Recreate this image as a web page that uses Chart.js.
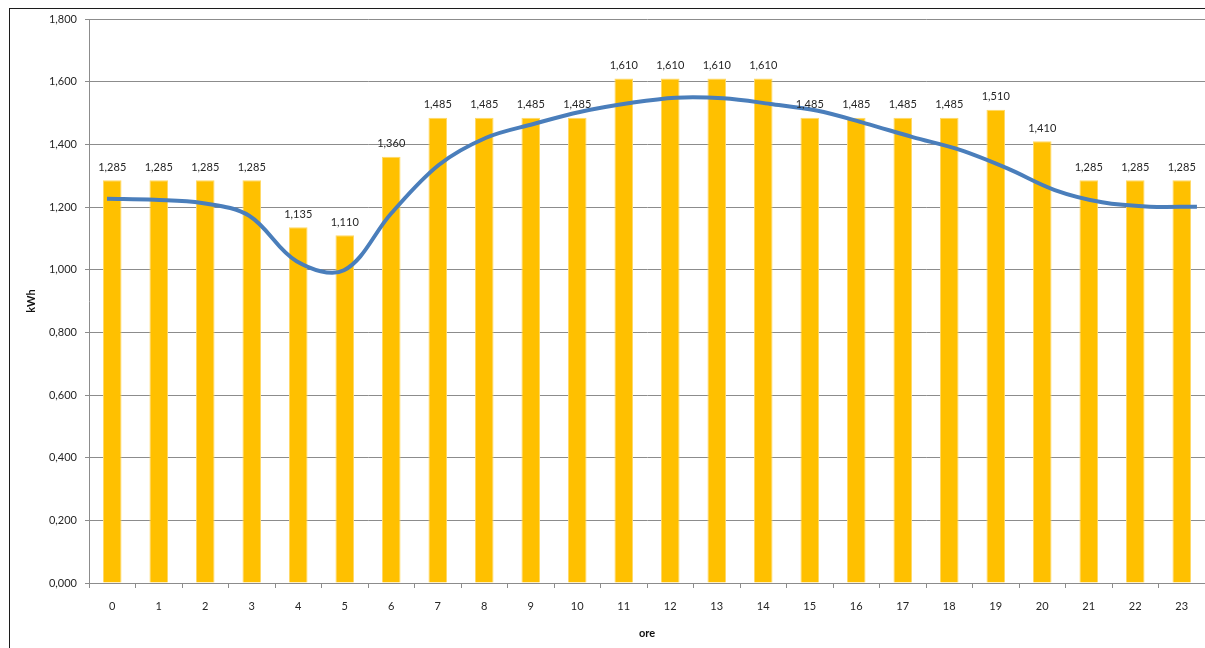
<!DOCTYPE html>
<html>
<head>
<meta charset="utf-8">
<script src="https://cdn.jsdelivr.net/npm/chart.js@4/dist/chart.umd.min.js"></script>
<style>
  html, body { margin: 0; padding: 0; background: #ffffff; }
  #wrap { position: relative; width: 1205px; height: 648px; overflow: hidden; }
  #frame { position: absolute; left: 9px; top: 8px; width: 1300px; height: 700px;
           border-left: 1px solid #1c1c1c; border-top: 1px solid #1c1c1c; pointer-events: none; }
  canvas { position: absolute; left: 0; top: 0; }
</style>
</head>
<body>
<div id="wrap">
  <canvas id="c" width="1205" height="648"></canvas>
  <div id="frame"></div>
</div>
<script>
// Hours of the day
const hours = ['0','1','2','3','4','5','6','7','8','9','10','11','12','13','14','15','16','17','18','19','20','21','22','23'];
// Hourly consumption (kWh)
const consumption = [1.285,1.285,1.285,1.285,1.135,1.110,1.360,1.485,1.485,1.485,1.485,1.610,1.610,1.610,1.610,1.485,1.485,1.485,1.485,1.510,1.410,1.285,1.285,1.285];
// Smoothed trend curve (kWh), one point per hour
const trend = [1.226,1.223,1.213,1.172,1.027,0.998,1.180,1.334,1.421,1.465,1.504,1.531,1.549,1.547,1.529,1.507,1.467,1.423,1.382,1.323,1.254,1.215,1.201,1.201];
// Value axis ticks
const yTicks = [0,0.2,0.4,0.6,0.8,1.0,1.2,1.4,1.6,1.8];

const fmt = v => v.toFixed(3).replace('.', ',');
const FONT = 'Lato, "Open Sans", sans-serif';
const TEXT = '#262626';

// Value labels above each bar
const barLabels = {
  id: 'barLabels',
  afterDatasetsDraw(chart) {
    const ctx = chart.ctx;
    const idx = chart.data.datasets.findIndex(d => d.type === 'bar');
    const meta = chart.getDatasetMeta(idx);
    ctx.save();
    ctx.font = '11px ' + FONT;
    ctx.fillStyle = TEXT;
    ctx.textAlign = 'center';
    ctx.textBaseline = 'middle';
    meta.data.forEach((bar, i) => {
      ctx.fillText(fmt(chart.data.datasets[idx].data[i]), bar.x, bar.y - 13);
    });
    ctx.restore();
  }
};

new Chart(document.getElementById('c'), {
  type: 'bar',
  data: {
    labels: hours,
    datasets: [
      {
        type: 'line',
        xAxisID: 'x2',
        yAxisID: 'y',
        data: trend.map((v, i) => ({ x: i, y: v })),
        borderColor: '#4a7ebb',
        borderWidth: 4,
        pointRadius: 0,
        tension: 0.35,
        fill: false,
        order: 0
      },
      {
        type: 'bar',
        xAxisID: 'x',
        yAxisID: 'y',
        data: consumption,
        backgroundColor: '#ffc000',
        borderColor: '#ffd966',
        borderWidth: 1,
        grouped: false,
        barPercentage: 0.4,
        categoryPercentage: 1.0,
        order: 1
      }
    ]
  },
  options: {
    responsive: false,
    animation: false,
    devicePixelRatio: 1,
    layout: { padding: { left: 0, top: 19, right: 0, bottom: 0 } },
    plugins: { legend: { display: false }, tooltip: { enabled: false } },
    scales: {
      x: {
        type: 'category',
        offset: true,
        grid: { offset: true, drawOnChartArea: false, color: '#8c8c8c', tickLength: 5, tickColor: '#8c8c8c' },
        border: { color: '#8c8c8c', width: 1 },
        ticks: { color: TEXT, font: { family: FONT, size: 11 }, padding: 12, maxRotation: 0, autoSkip: false },
        title: { display: true, text: 'ore', color: '#111', font: { family: FONT, size: 11, weight: 'bold' }, padding: { top: 0, bottom: 8 } },
        afterFit(s) { s.height = 65; }
      },
      x2: {
        type: 'linear',
        axis: 'x',
        display: false,
        offset: false,
        grid: { offset: false },
        min: -0.38,
        max: 23.17
      },
      y: {
        min: 0,
        max: 1.8,
        afterBuildTicks(s) { s.ticks = yTicks.map(v => ({ value: v })); },
        grid: { color: '#8c8c8c', tickLength: 4, tickColor: '#8c8c8c' },
        border: { color: '#8c8c8c', width: 1 },
        ticks: { color: TEXT, font: { family: FONT, size: 11 }, padding: 8, callback: v => fmt(v) },
        title: { display: true, text: 'kWh', color: '#111', font: { family: FONT, size: 11, weight: 'bold' }, padding: { top: 25, bottom: 0 } },
        afterFit(s) { s.width = 89; }
      }
    }
  },
  plugins: [barLabels]
});
</script>
</body>
</html>
